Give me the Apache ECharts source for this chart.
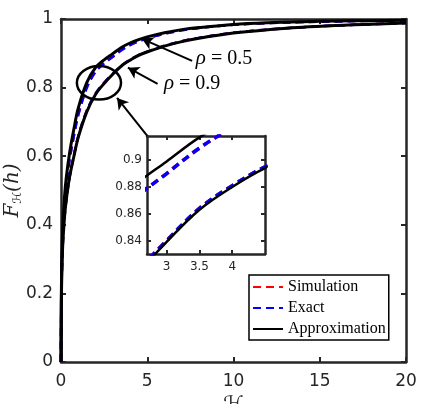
<!DOCTYPE html>
<html>
<head>
<meta charset="utf-8">
<script src="https://cdn.jsdelivr.net/npm/echarts@6/dist/echarts.min.js"></script>
<style>
  html, body { margin: 0; padding: 0; background: #fff; }
  #main { width: 446px; height: 404px; }
</style>
</head>
<body>
<div id="main"></div>
<script>
// h values (x axis)
var hVals = [0, 0.02, 0.05, 0.1, 0.2, 0.3, 0.5, 0.75, 1, 1.5, 2, 2.5, 3, 3.5, 4, 4.5, 5, 6, 7, 8, 10, 12, 14, 16, 18, 20];
// rho = 0.5
var exact05  = [0, 0.19, 0.29, 0.375, 0.46, 0.515, 0.59, 0.66, 0.72, 0.8, 0.846, 0.871, 0.89, 0.909, 0.924, 0.935, 0.944, 0.957, 0.967, 0.974, 0.983, 0.988, 0.991, 0.993, 0.995, 0.996];
var approx05 = [0, 0.2, 0.3, 0.39, 0.48, 0.535, 0.61, 0.68, 0.74, 0.815, 0.858, 0.881, 0.899, 0.917, 0.93, 0.94, 0.948, 0.96, 0.969, 0.975, 0.984, 0.989, 0.992, 0.994, 0.995, 0.996];
// rho = 0.9
var exact09  = [0, 0.17, 0.26, 0.34, 0.42, 0.47, 0.54, 0.602, 0.658, 0.733, 0.782, 0.814, 0.84, 0.864, 0.881, 0.895, 0.905, 0.922, 0.935, 0.945, 0.96, 0.969, 0.976, 0.981, 0.985, 0.988];
var approx09 = [0, 0.17, 0.26, 0.34, 0.42, 0.47, 0.54, 0.6, 0.655, 0.73, 0.78, 0.812, 0.839, 0.863, 0.88, 0.894, 0.904, 0.921, 0.934, 0.944, 0.959, 0.969, 0.976, 0.981, 0.985, 0.988];
// simulation points sit on the exact curves
var sim05 = exact05;
var sim09 = exact09;

var mainXTicks = [0, 5, 10, 15, 20];
var insetXTicks = [3, 3.5, 4];
var insetYTicks = [0.84, 0.86, 0.88, 0.9];

function pairs(ys) {
    return hVals.map(function (h, i) { return [h, ys[i]]; });
}

var axisColor = '#262626';
var sansFont = 'DejaVu Sans';
var serifFont = 'Liberation Serif';

function frameAxis(pos, gi, extra) {
    var a = {
        type: 'value',
        gridIndex: gi,
        position: pos,
        axisLine: { show: true, onZero: false, lineStyle: { color: axisColor, width: 2.5 } },
        axisTick: { show: true, inside: true, length: gi === 0 ? 5 : 4, lineStyle: { color: axisColor, width: 2 } },
        axisLabel: { show: false },
        splitLine: { show: false }
    };
    for (var k in extra) a[k] = extra[k];
    return a;
}

function lineSeries(name, data, color, dashed, width, xi, z) {
    return {
        name: name,
        type: 'line',
        xAxisIndex: xi,
        yAxisIndex: xi,
        data: pairs(data),
        showSymbol: false,
        symbol: 'none',
        smooth: 0.35,
        z: z,
        silent: true,
        lineStyle: { color: color, width: width, type: dashed ? [8, 5] : 'solid' },
        itemStyle: { color: color }
    };
}

var series = [];
[0, 2].forEach(function (xi) {
    var w = xi === 0 ? 3 : 2.5;
    var wd = xi === 0 ? 2.5 : 3.5;
    series.push(lineSeries('Simulation', sim05, '#ff0000', true, wd, xi, 2));
    series.push(lineSeries('Simulation', sim09, '#ff0000', true, wd, xi, 2));
    series.push(lineSeries('Exact', exact05, '#0000ff', true, wd, xi, 3));
    series.push(lineSeries('Exact', exact09, '#0000ff', true, wd, xi, 3));
    series.push(lineSeries('Approximation', approx05, '#000000', false, w, xi, 4));
    series.push(lineSeries('Approximation', approx09, '#000000', false, w, xi, 4));
});

// arrows (data coordinates of the main axes)
series.push({
    type: 'line',
    xAxisIndex: 0,
    yAxisIndex: 0,
    data: [],
    silent: true,
    markLine: {
        silent: true,
        symbol: ['none', 'arrow'],
        symbolSize: [10, 11],
        label: { show: false },
        lineStyle: { color: '#000', width: 2, type: 'solid' },
        data: [
            [{ coord: [7.6, 0.878] }, { coord: [4.7, 0.942] }],
            [{ coord: [5.6, 0.811] }, { coord: [3.88, 0.858] }],
            [{ coord: [4.99, 0.66] }, { coord: [3.25, 0.77] }]
        ]
    }
});

var chart = echarts.init(document.getElementById('main'));
chart.setOption({
    backgroundColor: '#fff',
    animation: false,
    grid: [
        { left: 61, top: 19, right: 40, bottom: 42, outerBoundsMode: 'none', containLabel: false },
        { left: 147, top: 136, width: 118, height: 118, show: true, backgroundColor: '#fff', borderWidth: 0,
          outerBoundsMode: 'none', containLabel: false }
    ],
    legend: {
        left: 249,
        top: 275,
        orient: 'vertical',
        align: 'left',
        backgroundColor: '#fff',
        borderColor: '#000',
        borderWidth: 1.5,
        borderRadius: 0,
        padding: [4, 3, 3, 3],
        itemGap: 5,
        itemWidth: 30,
        itemHeight: 14,
        selectedMode: false,
        z: 10,
        itemStyle: { opacity: 0 },
        data: ['Simulation', 'Exact', 'Approximation'],
        textStyle: { fontFamily: serifFont, fontSize: 16, color: '#000' }
    },
    xAxis: [
        frameAxis('bottom', 0, {
            min: 0, max: 20, interval: 5,
            axisLabel: { show: true, fontFamily: sansFont, fontSize: 17, color: axisColor, margin: 11,
                customValues: mainXTicks },
            axisTick: { show: true, inside: true, length: 5, lineStyle: { color: axisColor, width: 2 }, customValues: mainXTicks },
            name: 'ℋ',
            nameLocation: 'middle',
            nameGap: 24,
            nameTextStyle: { fontFamily: 'DejaVu Sans', fontSize: 21, color: axisColor }
        }),
        frameAxis('top', 0, { min: 0, max: 20, interval: 5 }),
        frameAxis('bottom', 1, {
            min: 2.7, max: 4.5,
            axisLabel: { show: true, fontFamily: sansFont, fontSize: 12, color: axisColor, margin: 7, customValues: insetXTicks },
            axisTick: { show: true, inside: true, length: 4, lineStyle: { color: axisColor, width: 2 }, customValues: insetXTicks }
        }),
        frameAxis('top', 1, {
            min: 2.7, max: 4.5,
            axisTick: { show: true, inside: true, length: 4, lineStyle: { color: axisColor, width: 2 }, customValues: insetXTicks }
        })
    ],
    yAxis: [
        frameAxis('left', 0, {
            min: 0, max: 1, interval: 0.2,
            axisLabel: { show: true, fontFamily: sansFont, fontSize: 17, color: axisColor, margin: 8 }
        }),
        frameAxis('right', 0, { min: 0, max: 1, interval: 0.2 }),
        frameAxis('left', 1, {
            min: 0.83, max: 0.918,
            axisLabel: { show: true, fontFamily: sansFont, fontSize: 12, color: axisColor, margin: 5, customValues: insetYTicks,
                formatter: function (v) { return String(+v.toFixed(2)); } },
            axisTick: { show: true, inside: true, length: 4, lineStyle: { color: axisColor, width: 2 }, customValues: insetYTicks }
        }),
        frameAxis('right', 1, {
            min: 0.83, max: 0.918,
            axisTick: { show: true, inside: true, length: 4, lineStyle: { color: axisColor, width: 2 }, customValues: insetYTicks }
        })
    ],
    series: series
});

// ellipse, rho labels and the y title, placed from data coordinates
function px(pt) { return chart.convertToPixel({ gridIndex: 0 }, pt); }
var c = px([2.2, 0.814]);
var ex = px([2.2 + 1.28, 0.814]);
var ey = px([2.2, 0.814 + 0.049]);
var t05 = px([9.45, 0.884]);
var t09 = px([7.6, 0.811]);
var yMid = px([0, 0.5]);
var labelRich = {
    g: { fontFamily: serifFont, fontStyle: 'italic', fontSize: 21, fill: '#000' },
    n: { fontFamily: serifFont, fontSize: 20, fill: '#000' }
};
chart.setOption({
    graphic: [
        {
            type: 'ellipse',
            shape: { cx: c[0], cy: c[1], rx: ex[0] - c[0], ry: c[1] - ey[1] },
            style: { fill: 'none', stroke: '#000', lineWidth: 2.5 },
            z: 20, silent: true
        },
        {
            type: 'text', x: t05[0], y: t05[1], z: 20, silent: true,
            style: { text: '{g|ρ}{n| = 0.5}', rich: labelRich, align: 'center', verticalAlign: 'middle' }
        },
        {
            type: 'text', x: t09[0], y: t09[1], z: 20, silent: true,
            style: { text: '{g|ρ}{n| = 0.9}', rich: labelRich, align: 'center', verticalAlign: 'middle' }
        },
        {
            type: 'text', x: 13, y: yMid[1], rotation: Math.PI / 2, z: 20, silent: true,
            style: {
                text: '{f|F}{s|ℋ}{p|(h)}',
                align: 'center', verticalAlign: 'middle',
                rich: {
                    f: { fontFamily: 'DejaVu Serif', fontStyle: 'italic', fontSize: 20, fill: axisColor },
                    s: { fontFamily: 'DejaVu Sans', fontSize: 12, fill: axisColor, padding: [10, 0, 0, 0] },
                    p: { fontFamily: 'DejaVu Serif', fontStyle: 'italic', fontSize: 20, fill: axisColor }
                }
            }
        }
    ]
});
</script>
</body>
</html>
